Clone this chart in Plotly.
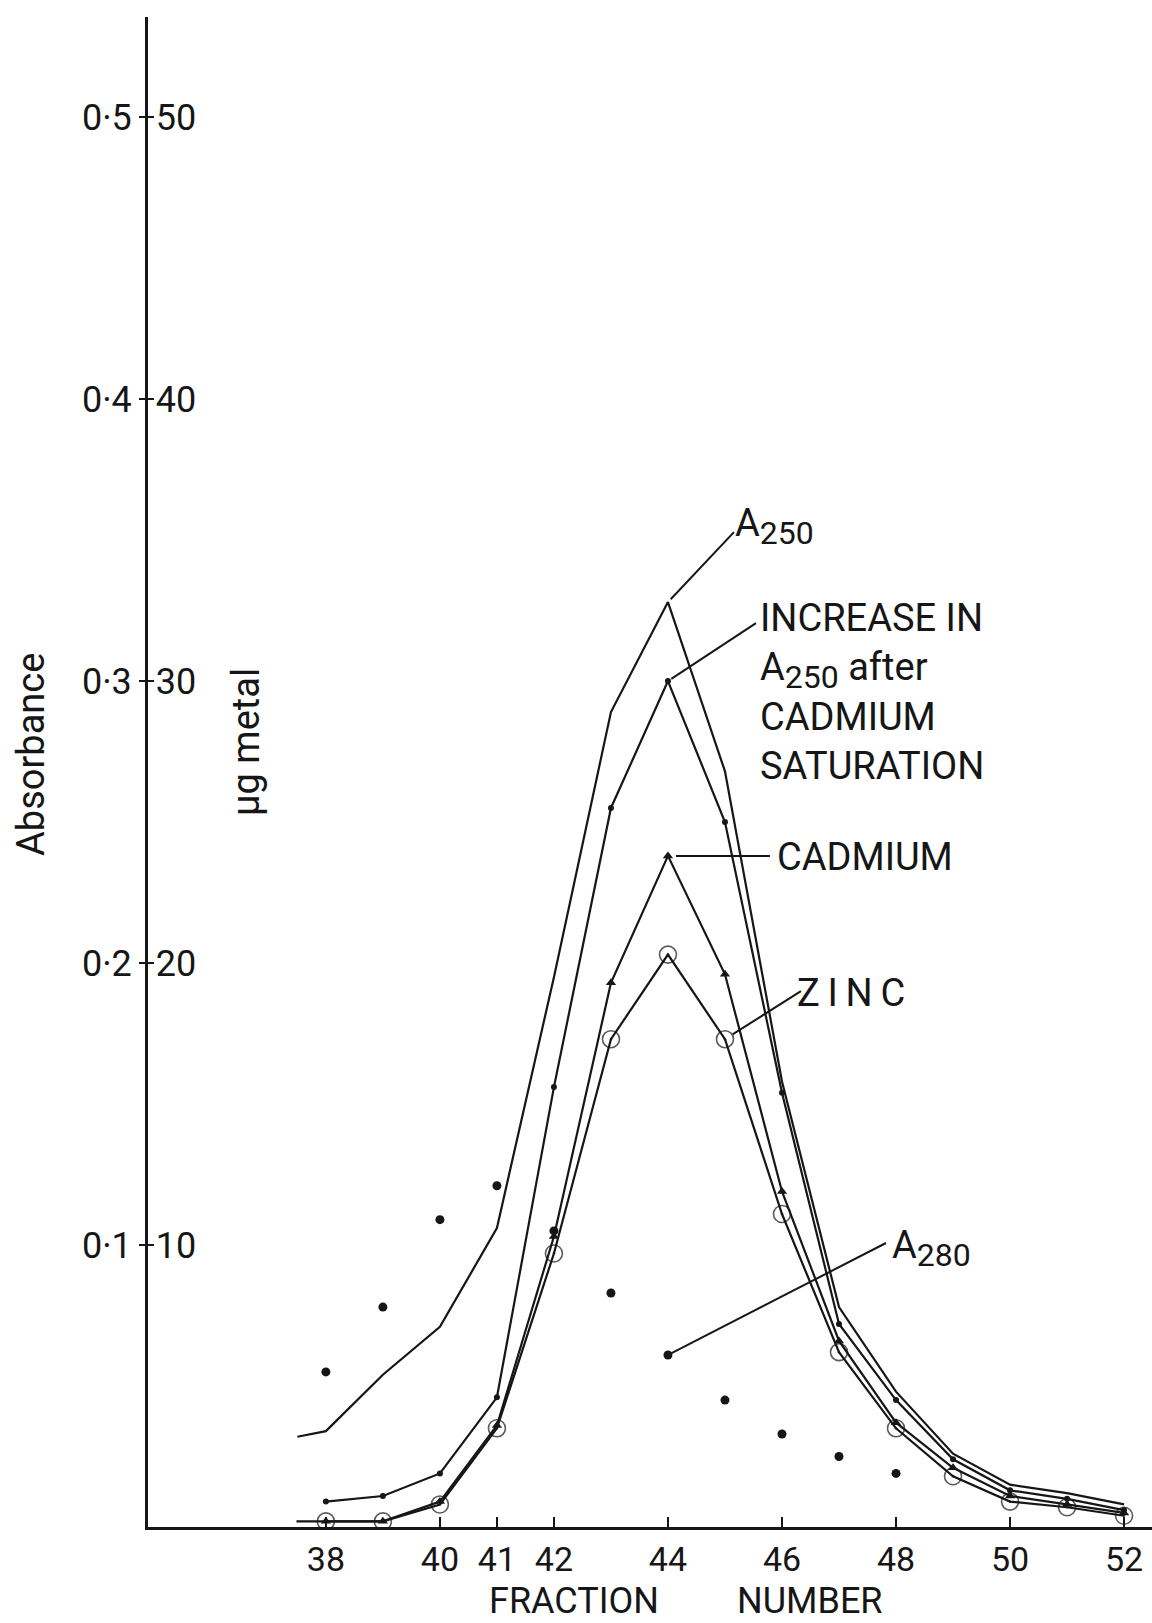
import math
import plotly.graph_objects as go

# ---------------- data ----------------
fractions = [38, 39, 40, 41, 42, 43, 44, 45, 46, 47, 48, 49, 50, 51, 52]

a250_x = [37.5, 38, 39, 40, 41, 42, 43, 44, 45, 46, 47, 48, 49, 50, 51, 52]
a250_y = [0.032, 0.034, 0.054, 0.071, 0.106, 0.195, 0.289, 0.328, 0.268, 0.158,
          0.078, 0.048, 0.026, 0.015, 0.012, 0.008]

increase_x = fractions
increase_y = [0.009, 0.011, 0.019, 0.046, 0.156, 0.255, 0.300, 0.250, 0.154,
              0.072, 0.045, 0.024, 0.013, 0.010, 0.006]

cadmium_x = fractions
cadmium_ug = [0.2, 0.2, 0.9, 3.6, 10.3, 19.3, 23.8, 19.6, 11.9, 6.6, 3.7, 2.1,
              1.1, 0.8, 0.5]

zinc_x = [37.5] + fractions
zinc_ug = [0.2, 0.2, 0.2, 0.8, 3.5, 9.7, 17.3, 20.3, 17.3, 11.1, 6.2, 3.5, 1.8,
           0.9, 0.7, 0.4]

a280_x = [38, 39, 40, 41, 42, 43, 44, 45, 46, 47, 48]
a280_y = [0.055, 0.078, 0.109, 0.121, 0.105, 0.083, 0.061, 0.045, 0.033, 0.025,
          0.019]

x_ticks = [38, 40, 41, 42, 44, 46, 48, 50, 52]
abs_ticks = [0.1, 0.2, 0.3, 0.4, 0.5]
abs_ticktext = ["0·1", "0·2", "0·3", "0·4", "0·5"]
ug_ticks = [10, 20, 30, 40, 50]
ug_ticktext = ["10", "20", "30", "40", "50"]

# ---------------- layout geometry ----------------
W, H = 1152, 1623
ML, MR, MT, MB = 148, 0, 17, 96
PW, PH = W - ML - MR, H - MT - MB
X_RANGE = [34.88, 52.49]
Y_RANGE = [0, 0.5355]
Y2_RANGE = [0, 53.55]
FONT = "Roboto"
INK = "#161616"


def px(xp):
    return (xp - ML) / PW


def py(yp):
    return (H - MB - yp) / PH


fig = go.Figure()

line_style = dict(color=INK, width=2.2)

fig.add_trace(go.Scatter(x=a250_x, y=a250_y, mode="lines", line=line_style,
                         name="A250", yaxis="y"))
fig.add_trace(go.Scatter(x=increase_x, y=increase_y, mode="lines+markers",
                         line=line_style,
                         marker=dict(symbol="circle", size=6, color=INK),
                         name="Increase in A250", yaxis="y"))
fig.add_trace(go.Scatter(x=cadmium_x, y=cadmium_ug, mode="lines+markers",
                         line=line_style,
                         marker=dict(symbol="triangle-up", size=9, color=INK),
                         name="Cadmium", yaxis="y2"))
fig.add_trace(go.Scatter(x=zinc_x, y=zinc_ug, mode="lines+markers",
                         line=line_style,
                         marker=dict(symbol="circle-open-dot",
                                     size=[0] + [17] * len(fractions),
                                     color=INK, line=dict(width=1.6, color=INK)),
                         name="Zinc", yaxis="y2"))
fig.add_trace(go.Scatter(x=a280_x, y=a280_y, mode="markers",
                         marker=dict(symbol="circle", size=9, color=INK),
                         name="A280", yaxis="y"))

tickfont = dict(family=FONT, size=36, color=INK)

fig.update_layout(
    width=W, height=H, autosize=False,
    margin=dict(l=ML, r=MR, t=MT, b=MB, pad=0),
    paper_bgcolor="white", plot_bgcolor="white",
    showlegend=False,
    xaxis=dict(range=X_RANGE, tickvals=x_ticks,
               ticktext=[str(v) for v in x_ticks],
               ticks="inside", ticklen=10, tickwidth=2, tickcolor=INK,
               showline=True, linewidth=3, linecolor=INK,
               showgrid=False, zeroline=False,
               tickfont=dict(family=FONT, size=34, color=INK)),
    yaxis=dict(range=Y_RANGE, tickvals=abs_ticks, ticktext=abs_ticktext,
               ticks="outside", ticklen=6, tickwidth=2, tickcolor=INK,
               showline=True, linewidth=3, linecolor=INK,
               showgrid=False, zeroline=False, tickfont=tickfont),
    yaxis2=dict(range=Y2_RANGE, tickvals=ug_ticks, ticktext=ug_ticktext,
                overlaying="y", side="left", anchor="x",
                ticks="inside", ticklen=6, tickwidth=2, tickcolor=INK,
                ticklabelposition="inside", ticklabelstandoff=6,
                showline=False, showgrid=False, zeroline=False,
                tickfont=tickfont),
)

# ---------------- leader lines (shapes anchored on data points) ----------------
X_PER_PX = (X_RANGE[1] - X_RANGE[0]) / PW


def leader(x, y, dx_px, dy_px, yref="y", standoff=3):
    yr = Y_RANGE if yref == "y" else Y2_RANGE
    y_per_px = (yr[1] - yr[0]) / PH
    length = math.hypot(dx_px, dy_px)
    sx = dx_px * standoff / length
    sy = dy_px * standoff / length
    fig.add_shape(type="line", xref="x", yref=yref,
                  x0=x + sx * X_PER_PX, y0=y - sy * y_per_px,
                  x1=x + dx_px * X_PER_PX, y1=y - dy_px * y_per_px,
                  line=dict(color=INK, width=2))


leader(44, a250_y[a250_x.index(44)], 66, -70, standoff=4)
leader(44, increase_y[increase_x.index(44)], 88, -58, standoff=4)
leader(44, cadmium_ug[cadmium_x.index(44)], 102, 0, yref="y2", standoff=8)
leader(45, zinc_ug[zinc_x.index(45)], 76, -48, yref="y2", standoff=9)
leader(44, a280_y[a280_x.index(44)], 218, -112, standoff=3)

# ---------------- text labels ----------------
lab = dict(family=FONT, size=38, color=INK)
SUB = "<sub><span style='font-size:32px'>{}</span></sub>"


def label(text, xl, yc, **kw):
    fig.add_annotation(x=px(xl), y=py(yc), xref="paper", yref="paper",
                       text=text, showarrow=False, xanchor="left",
                       yanchor="middle", font=lab, align="left", **kw)


label("A" + SUB.format("250"), 733, 526)
label("INCREASE IN<br>A" + SUB.format("250") + " after<br>CADMIUM<br>SATURATION",
      758, 692)
label("CADMIUM", 775, 857)
label("Z\u2009I\u2009N\u2009C", 795, 993)
label("A" + SUB.format("280"), 890, 1248)

for text, xc in (("FRACTION", 574), ("NUMBER", 810)):
    fig.add_annotation(x=px(xc), y=py(1601), xref="paper", yref="paper",
                       text=text, showarrow=False, xanchor="center",
                       yanchor="middle", font=dict(family=FONT, size=36,
                                                   color=INK))

fig.add_annotation(x=px(31), y=py(755), xref="paper", yref="paper",
                   text="Absorbance", textangle=-90, showarrow=False,
                   xanchor="center", yanchor="middle", font=lab)
fig.add_annotation(x=px(246), y=py(742), xref="paper", yref="paper",
                   text="µg metal", textangle=-90, showarrow=False,
                   xanchor="center", yanchor="middle", font=lab)

fig.write_html("out.html")
